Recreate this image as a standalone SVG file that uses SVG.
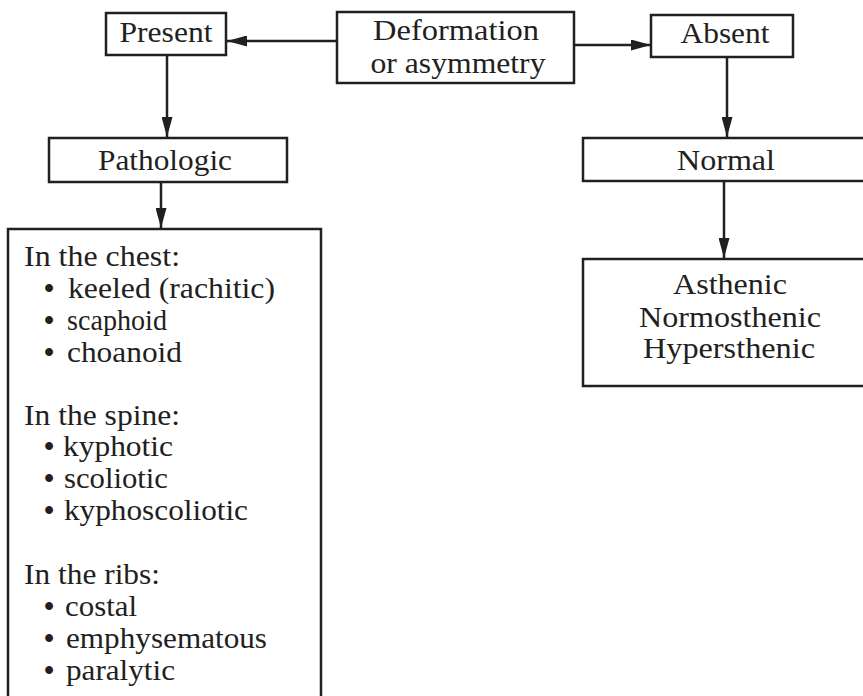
<svg xmlns="http://www.w3.org/2000/svg" width="863" height="696" viewBox="0 0 863 696">
<style>
.box{fill:#fff;stroke:#231f20;stroke-width:2.5}
text{font-family:'Liberation Serif','Times New Roman',serif;font-size:29px;fill:#231f20}
.c{text-anchor:middle}
.b{font-weight:bold}
.ln{stroke:#231f20;stroke-width:2.5;fill:none}
</style>
<defs>
<marker id="ah" markerUnits="userSpaceOnUse" markerWidth="20" markerHeight="11" refX="20" refY="5.5" orient="auto">
<path d="M0,0 L20,5.5 L0,11 z" fill="#231f20"/>
</marker>
</defs>
<rect width="863" height="696" fill="#fff"/>
<g id="connectors">
<line class="ln" x1="337" y1="41" x2="227" y2="41" marker-end="url(#ah)"/>
<line class="ln" x1="574" y1="45" x2="651" y2="45" marker-end="url(#ah)"/>
<line class="ln" x1="167" y1="55" x2="167" y2="137" marker-end="url(#ah)"/>
<line class="ln" x1="161" y1="182" x2="161" y2="228" marker-end="url(#ah)"/>
<line class="ln" x1="727" y1="57" x2="727" y2="137" marker-end="url(#ah)"/>
<line class="ln" x1="724" y1="181" x2="724" y2="258" marker-end="url(#ah)"/>
</g>
<g id="deformation">
<rect class="box" x="337" y="12" width="237" height="71"/>
<text class="c" x="456" y="40" textLength="166" lengthAdjust="spacingAndGlyphs">Deformation</text>
<text class="c" x="458" y="73" textLength="175" lengthAdjust="spacingAndGlyphs">or asymmetry</text>
</g>
<g id="present">
<rect class="box" x="106" y="13" width="120" height="42"/>
<text class="c" x="166" y="42" textLength="93" lengthAdjust="spacingAndGlyphs">Present</text>
</g>
<g id="absent">
<rect class="box" x="651" y="15" width="142" height="42"/>
<text class="c" x="725" y="43" textLength="89" lengthAdjust="spacingAndGlyphs">Absent</text>
</g>
<g id="pathologic">
<rect class="box" x="49" y="138" width="238" height="44"/>
<text class="c" x="165" y="170" textLength="134" lengthAdjust="spacingAndGlyphs">Pathologic</text>
</g>
<g id="normal">
<rect class="box" x="583" y="138" width="300" height="43"/>
<text class="c" x="726" y="170" textLength="98" lengthAdjust="spacingAndGlyphs">Normal</text>
</g>
<g id="types">
<rect class="box" x="583" y="259" width="300" height="127"/>
<text class="c" x="730" y="294" textLength="114" lengthAdjust="spacingAndGlyphs">Asthenic</text>
<text class="c" x="730" y="327" textLength="182" lengthAdjust="spacingAndGlyphs">Normosthenic</text>
<text class="c" x="729" y="358" textLength="172" lengthAdjust="spacingAndGlyphs">Hypersthenic</text>
</g>
<g id="pathologic-list">
<rect class="box" x="8" y="229" width="313" height="480"/>
<text x="24" y="266" textLength="156" lengthAdjust="spacingAndGlyphs">In the chest:</text>
<text x="44" y="298"><tspan class="b">•</tspan><tspan x="68" textLength="207" lengthAdjust="spacingAndGlyphs">keeled (rachitic)</tspan></text>
<text x="44" y="330"><tspan class="b">•</tspan><tspan x="67" textLength="100" lengthAdjust="spacingAndGlyphs">scaphoid</tspan></text>
<text x="44" y="362"><tspan class="b">•</tspan><tspan x="67" textLength="115" lengthAdjust="spacingAndGlyphs">choanoid</tspan></text>
<text x="24" y="425" textLength="156" lengthAdjust="spacingAndGlyphs">In the spine:</text>
<text x="44" y="456"><tspan class="b">•</tspan><tspan x="63" textLength="110" lengthAdjust="spacingAndGlyphs">kyphotic</tspan></text>
<text x="44" y="488"><tspan class="b">•</tspan><tspan x="64" textLength="104" lengthAdjust="spacingAndGlyphs">scoliotic</tspan></text>
<text x="44" y="520"><tspan class="b">•</tspan><tspan x="64" textLength="184" lengthAdjust="spacingAndGlyphs">kyphoscoliotic</tspan></text>
<text x="24" y="584" textLength="136" lengthAdjust="spacingAndGlyphs">In the ribs:</text>
<text x="44" y="616"><tspan class="b">•</tspan><tspan x="65" textLength="72" lengthAdjust="spacingAndGlyphs">costal</tspan></text>
<text x="44" y="648"><tspan class="b">•</tspan><tspan x="66" textLength="201" lengthAdjust="spacingAndGlyphs">emphysematous</tspan></text>
<text x="44" y="680"><tspan class="b">•</tspan><tspan x="66" textLength="109" lengthAdjust="spacingAndGlyphs">paralytic</tspan></text>
</g>
</svg>
